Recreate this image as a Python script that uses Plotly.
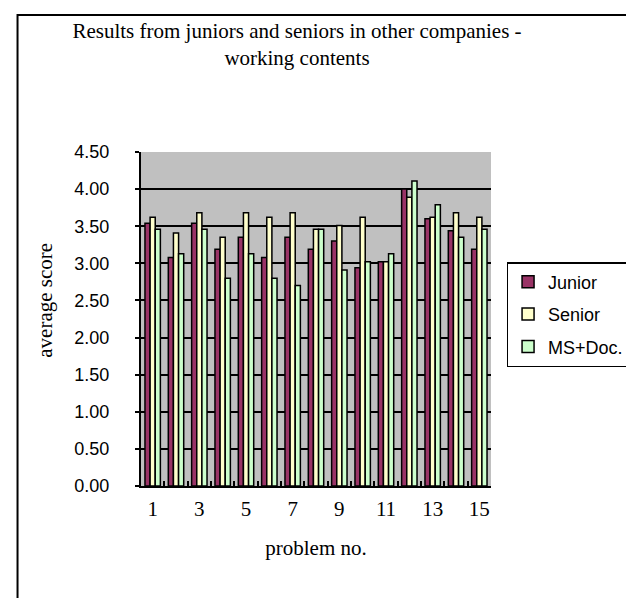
import plotly.graph_objects as go

problems = [str(i) for i in range(1, 16)]
tick_text = ["1", "", "3", "", "5", "", "7", "", "9", "", "11", "", "13", "", "15"]
junior = [3.54, 3.08, 3.54, 3.19, 3.35, 3.08, 3.35, 3.19, 3.30, 2.94, 3.02, 4.00, 3.60, 3.44, 3.19]
senior = [3.62, 3.41, 3.68, 3.35, 3.68, 3.62, 3.68, 3.46, 3.51, 3.62, 3.02, 3.89, 3.62, 3.68, 3.62]
msdoc = [3.46, 3.13, 3.46, 2.80, 3.13, 2.80, 2.70, 3.46, 2.91, 3.02, 3.13, 4.11, 3.79, 3.35, 3.46]
y_ticks = [0, 0.5, 1.0, 1.5, 2.0, 2.5, 3.0, 3.5, 4.0, 4.5]

W, H = 634, 598
L, R, T, B = 133, 141, 144, 120
pw, ph = W - L - R, H - T - B

fig = go.Figure()
series = [("Junior", junior, "#993366"), ("Senior", senior, "#FFFFCC"), ("MS+Doc.", msdoc, "#CCFFCC")]
for i, (name, vals, col) in enumerate(series):
    fig.add_trace(go.Bar(
        x=problems, y=vals, name=name, legendgroup=f"g{i}",
        marker=dict(color=col, line=dict(color="black", width=1.5)),
    ))

fig.update_layout(
    width=W, height=H,
    margin=dict(l=L, r=R, t=T, b=B, pad=0),
    paper_bgcolor="white",
    plot_bgcolor="#C0C0C0",
    barmode="group", bargap=0.34, bargroupgap=0,
    title=dict(
        text="Results from juniors and seniors in other companies -<br>working contents",
        x=289 / W, xanchor="center", y=1 - 30 / H, yanchor="top",
        font=dict(family="Liberation Serif", size=21, color="black"),
    ),
    legend=dict(
        x=(509 - L) / pw, xanchor="left", y=(H - B - 254) / ph, yanchor="top",
        bgcolor="white", bordercolor="black", borderwidth=1.5,
        font=dict(family="Liberation Sans", size=18, color="black"),
        tracegroupgap=6, traceorder="grouped", itemwidth=30,
    ),
    xaxis=dict(
        type="category", tickvals=problems, ticktext=tick_text, tickangle=0,
        tickfont=dict(family="Liberation Serif", size=21, color="black"),
        ticks="inside", tickson="boundaries", ticklen=5, tickcolor="black", tickwidth=1.5,
        showline=True, linecolor="black", linewidth=2, mirror=False,
        ticklabelstandoff=3,
        title=dict(text="problem no.", font=dict(family="Liberation Serif", size=21, color="black"), standoff=20),
        showgrid=False,
    ),
    yaxis=dict(
        range=[0, 4.5], tickvals=y_ticks, tickformat=".2f",
        tickfont=dict(family="Liberation Sans", size=18, color="black"),
        ticks="outside", ticklen=4, tickcolor="black", tickwidth=1.5,
        showline=True, linecolor="black", linewidth=2,
        showgrid=True, gridcolor="black", gridwidth=1.5,
        ticklabelstandoff=22,
        zeroline=False,
    ),
    annotations=[dict(
        text="average score", textangle=-90, showarrow=False,
        xref="paper", yref="paper",
        x=(34 - L) / pw, y=(H - B - 292) / ph, xanchor="center", yanchor="middle",
        font=dict(family="Liberation Serif", size=21, color="black"),
    )],
    shapes=[dict(
        type="rect", xref="paper", yref="paper",
        x0=(6 - L) / pw, x1=(W + 10 - L) / pw,
        y0=(H - B - (H + 10)) / ph, y1=(H - B - 7) / ph,
        line=dict(color="black", width=2), fillcolor="rgba(0,0,0,0)", layer="above",
    )],
    showlegend=True,
)

fig.write_html("out.html")
